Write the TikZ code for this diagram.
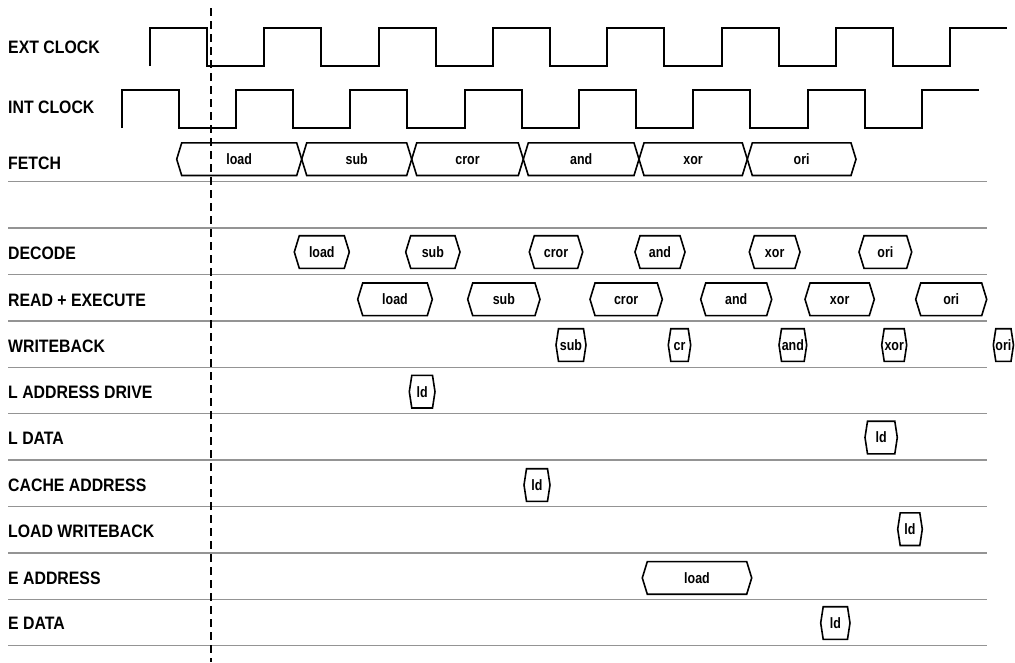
\documentclass[tikz,border=0pt]{standalone}
\usepackage{fontspec}
\newfontfamily\rowfont[FakeStretch=0.88]{Liberation Sans Bold}
\newfontfamily\opfont[FakeStretch=0.83]{Liberation Sans Bold}
\begin{document}
\begin{tikzpicture}[
    x=1pt, y=-1pt,
    clock/.style={draw=black, line width=2pt},
    sep/.style={draw=black!42, line width=1.4pt},
    bus/.style={draw=black, line width=1.6pt, line join=miter},
    marker/.style={draw=black, line width=2pt, dash pattern=on 8pt off 5pt},
    rowname/.style={anchor=west, inner sep=0pt, font=\rowfont\fontsize{18}{20}\selectfont},
    op/.style={inner sep=0pt, text height=10.8pt, text depth=0pt, font=\opfont\fontsize{15}{17}\selectfont}
]
\useasboundingbox (0,0) rectangle (1015,662);

% Linie oddzielajace wiersze
\foreach \k in {0,...,10}
    \draw[sep] (8,{181.6+46.4*\k}) -- (987,{181.6+46.4*\k});

% Nazwy sygnalow
\node[rowname] (ext) at (8,47.3) {EXT CLOCK};
\node[rowname] (int) at (8,107.3) {INT CLOCK};
\node[rowname] (fetch) at (8,163.3) {FETCH};
\node[rowname] (decode) at (8,253.3) {DECODE};
\node[rowname] (rex) at (8,300.2) {READ + EXECUTE};
\node[rowname] (wb) at (8,346.2) {WRITEBACK};
\node[rowname] (lad) at (8,392.7) {L ADDRESS DRIVE};
\node[rowname] (ldata) at (8,438.6) {L DATA};
\node[rowname] (cad) at (8,485.2) {CACHE ADDRESS};
\node[rowname] (lwb) at (8,531.5) {LOAD WRITEBACK};
\node[rowname] (ead) at (8,577.9) {E ADDRESS};
\node[rowname] (edata) at (8,623.5) {E DATA};

% Zegar zewnetrzny
\draw[clock] (150,66) \foreach \k in {0,...,6} {
    |- ({150+114.3*\k+57.15},28) |- ({150+114.3*(\k+1)},66) } |- (1007,28);

% Zegar wewnetrzny
\draw[clock] (121.7,128) \foreach \k in {0,...,6} {
    |- ({121.7+114.3*\k+57.15},89.5) |- ({121.7+114.3*(\k+1)},128) } |- (979,89.5);

% Znacznik chwili czasu
\coordinate (mtop) at (211,8);
\coordinate (mbot) at (211,662);
\draw[marker] (mtop) -- (mbot);

% Rozkazy w kolejnych etapach potoku: wiersz / lewy / prawy / skos / nazwa
\foreach \y/\l/\r/\s/\t [count=\i] in {
    159.2/176.7/301.7/5/load, 159.2/301.7/411.7/5/sub, 159.2/411.7/523.3/5/cror,
    159.2/523.3/639/5/and, 159.2/639/747.3/5/xor, 159.2/747.3/856/5/ori,
    252/294.3/349.3/5/load, 252/405.7/460/5/sub, 252/529.3/582.7/5/cror,
    252/635/685/5/and, 252/749.3/800/5/xor, 252/859/911.7/5/ori,
    299.3/357.7/432.3/5/load, 299.3/467.7/540/5/sub, 299.3/590/662.3/5/cror,
    299.3/700.7/771.7/5/and, 299.3/805/874.3/5/xor, 299.3/915.7/986.7/5/ori,
    345/556/586/2.5/sub, 345/668.3/690.7/2.5/cr, 345/779/806.7/2.5/and,
    345/881.7/906.7/2.5/xor, 345/993.3/1013.5/2.5/ori,
    391.7/409.3/435/2.5/ld,
    437.5/865/897.3/2.5/ld,
    485/524/550/2.5/ld,
    529.2/897.7/922.3/2.5/ld,
    577.9/642.3/751.7/5/load,
    623/820.7/850/2.5/ld} {
    \draw[bus] (\l,\y) -- ({\l+\s},{\y-16.3}) -- ({\r-\s},{\y-16.3}) -- (\r,\y)
        -- ({\r-\s},{\y+16.3}) -- ({\l+\s},{\y+16.3}) -- cycle;
    \node[op] (b\i) at ({(\l+\r)/2},\y) {\t};
}

\end{tikzpicture}
\end{document}
